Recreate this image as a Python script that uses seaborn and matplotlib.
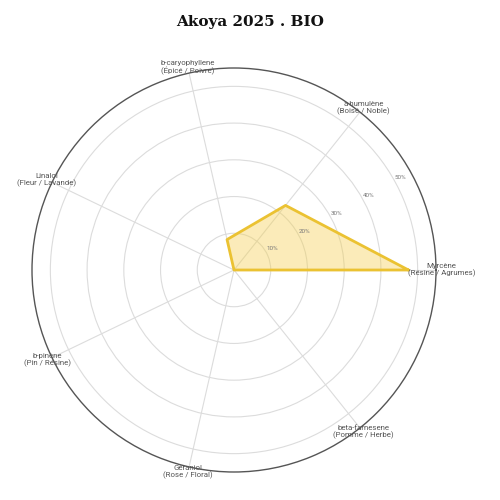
import numpy as np
import matplotlib
matplotlib.use("Agg")
import matplotlib.pyplot as plt
import seaborn as sns

categories = ["Myrcène\n(Résine / Agrumes)", "a-humulène\n(Boisé / Noble)",
              "b-caryophyllene\n(Épicé / Poivre)", "Linalol\n(Fleur / Lavande)",
              "b-pinène\n(Pin / Résine)", "Géraniol\n(Rose / Floral)",
              "beta-farnesene\n(Pomme / Herbe)"]
values = [47.5, 22.5, 8.5, 0, 0, 0, 0]
ring_values = [10, 20, 30, 40, 50]
ring_labels = ["10%", "20%", "30%", "40%", "50%"]
title = "Akoya 2025 . BIO"

sns.set_theme(style="white")
plt.rcParams['font.family'] = ['Roboto', 'DejaVu Sans']

fig = plt.figure(figsize=(5, 5), dpi=100)
ax = fig.add_axes([32/500, 28/500, 404/500, 404/500], projection='polar')

n = len(categories)
theta = np.linspace(0, 2*np.pi, n, endpoint=False)
th_closed = np.append(theta, theta[0])
v_closed = np.append(values, values[0])

ax.fill(th_closed, v_closed, color='#F5CF50', alpha=0.4, zorder=2, lw=0)
sns.lineplot(x=th_closed, y=v_closed, ax=ax, sort=False, color='#EBC232',
             lw=2, zorder=3, estimator=None)

ax.set_ylim(0, 55)
ax.set_yticks(ring_values)
ax.set_yticklabels([])
ax.set_xticks(theta)
ax.set_xticklabels([])
ax.grid(True, color='#dcdcdc', lw=0.8)
ax.spines['polar'].set_color('#555555')
ax.spines['polar'].set_linewidth(1.0)

for v, lab in zip(ring_values, ring_labels):
    ax.text(np.deg2rad(29), v + 1.8, lab, fontsize=4.5, color='#777777',
            ha='center', va='center')

for t, lab in zip(theta, categories):
    ax.text(t, 56.5, lab, fontsize=5.7, color='#555555', ha='center',
            va='center', linespacing=1.1, clip_on=False)

fig.text(0.5, 0.956, title, fontsize=11, fontweight='heavy',
         family='DejaVu Serif', ha='center', va='center', color='#111111')

fig.savefig("out.png", dpi=100, facecolor='white')
